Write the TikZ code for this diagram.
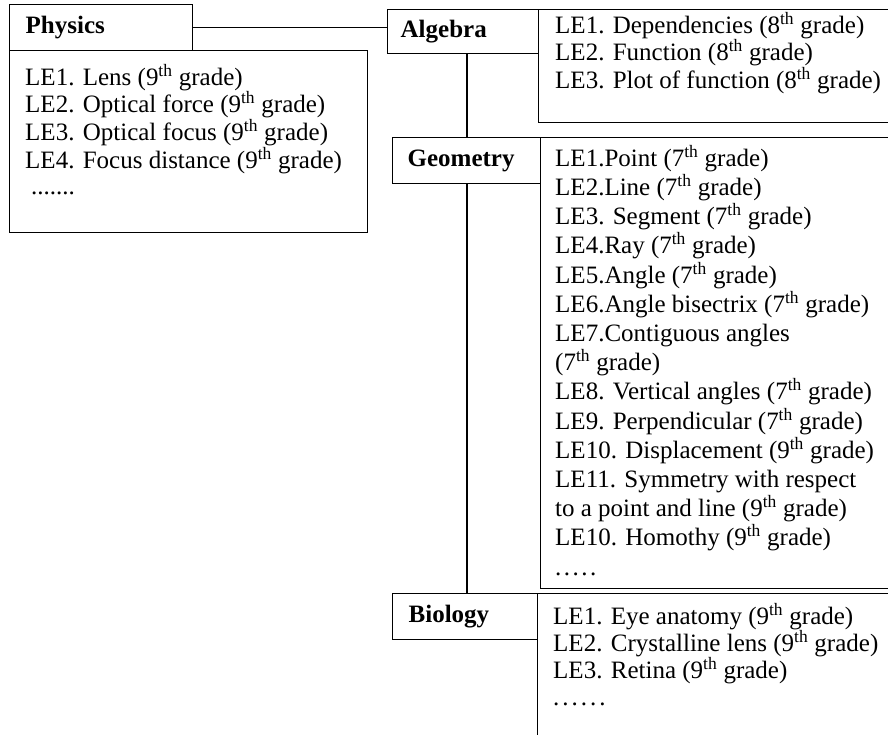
\documentclass[tikz,border=0pt]{standalone}
\usepackage{fontspec}
\setmainfont{Liberation Serif}
\usetikzlibrary{positioning}
\newcommand{\spdot}[1]{.\kern#1}
\begin{document}
\begin{tikzpicture}[x=1pt,y=-1pt,
        head/.style={draw,line width=1.3pt,anchor=north west,minimum height=46pt,inner ysep=0pt,align=left,font=\fontsize{25}{28}\selectfont\bfseries},
        frame/.style={draw,line width=1.3pt,anchor=north west,inner sep=0pt},
        items/.style={anchor=north west,inner sep=0pt,align=left,font=\fontsize{25}{#1}\selectfont}]
    \useasboundingbox (0,0) rectangle (888,735);
    \clip (0,0) rectangle (888,735);

    % subject headers
    \node[head,text width=151pt,inner xsep=16pt] (phys) at (9,4) {Physics};
    \node[head,text width=125pt,inner xsep=13pt,minimum height=44pt] (alg) at (387,9) {Algebra};
    \node[head,text width=118pt,inner xsep=15pt] (geo) at (392,137) {Geometry};
    \node[head,text width=113pt,inner xsep=16pt] (bio) at (392,593) {Biology};

    % learning elements
    \node[frame,minimum width=358pt,minimum height=182pt] (physbox) at (9,50) {};
    \node[items=26.5pt] (physitems) at ([shift={(16,14)}]physbox.north west) {
        LE1. Lens (9\textsuperscript{th} grade)\\
        LE2. Optical force (9\textsuperscript{th} grade)\\
        LE3. Optical focus (9\textsuperscript{th} grade)\\
        LE4. Focus distance (9\textsuperscript{th} grade)\\
        \hspace*{6pt}.......};

    \node[frame,minimum width=400pt,minimum height=113pt] (algbox) at (538,9) {};
    \node[items=24.5pt] (algitems) at ([shift={(17,3)}]algbox.north west) {
        LE1. Dependencies (8\textsuperscript{th} grade)\\
        LE2. Function (8\textsuperscript{th} grade)\\
        LE3. Plot of function (8\textsuperscript{th} grade)};

    \node[frame,minimum width=400pt,minimum height=451pt] (geobox) at (540,137) {};
    \node[items=29.2pt] (geoitems) at ([shift={(15,8)}]geobox.north west) {
        LE1.Point (7\textsuperscript{th} grade)\\
        LE2.Line (7\textsuperscript{th} grade)\\
        LE3. Segment (7\textsuperscript{th} grade)\\
        LE4.Ray (7\textsuperscript{th} grade)\\
        LE5.Angle (7\textsuperscript{th} grade)\\
        LE6.Angle bisectrix (7\textsuperscript{th} grade)\\
        LE7.Contiguous angles\\
        (7\textsuperscript{th} grade)\\
        LE8. Vertical angles (7\textsuperscript{th} grade)\\
        LE9. Perpendicular (7\textsuperscript{th} grade)\\
        LE10. Displacement (9\textsuperscript{th} grade)\\
        LE11. Symmetry with respect\\
        to a point and line (9\textsuperscript{th} grade)\\
        LE10. Homothy (9\textsuperscript{th} grade)\\
        \spdot{2.5pt}\spdot{2.5pt}\spdot{2.5pt}\spdot{2.5pt}.};

    \node[frame,minimum width=400pt,minimum height=200pt] (biobox) at (537,593) {};
    \node[items=27pt] (bioitems) at ([shift={(16,10)}]biobox.north west) {
        LE1. Eye anatomy (9\textsuperscript{th} grade)\\
        LE2. Crystalline lens (9\textsuperscript{th} grade)\\
        LE3. Retina (9\textsuperscript{th} grade)\\
        \spdot{3pt}\spdot{3pt}\spdot{3pt}\spdot{3pt}\spdot{3pt}.};

    % links
    \coordinate (trunk) at (467,0);
    \draw[line width=1.3pt] (phys.east) to (phys.east -| alg.west);
    \draw[line width=1.3pt] (alg.south -| trunk) to (geo.north -| trunk);
    \draw[line width=1.3pt] (geo.south -| trunk) to (bio.north -| trunk);
\end{tikzpicture}
\end{document}
